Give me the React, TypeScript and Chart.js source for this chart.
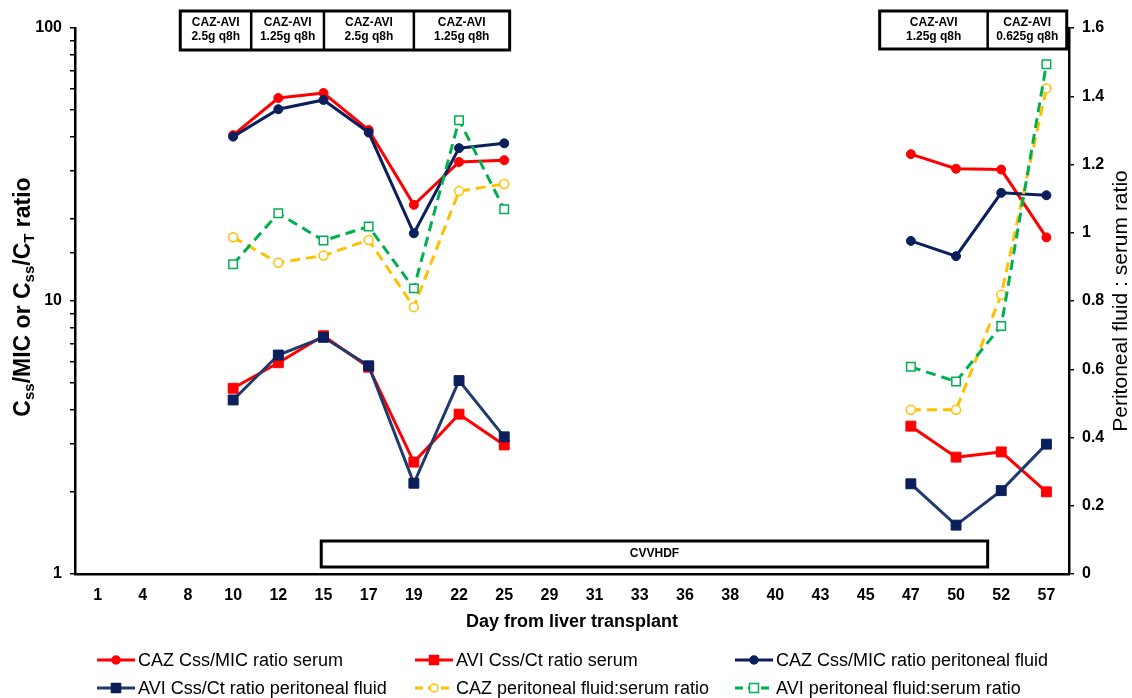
import React, { useEffect, useRef } from 'react';
import { Chart, registerables } from 'chart.js';

Chart.register(...registerables);

const FONT = '"Liberation Sans", Arial, Helvetica, sans-serif';

// Categories (day from liver transplant)
const days = ['1', '4', '8', '10', '12', '15', '17', '19', '22', '25', '29', '31', '33', '36', '38', '40', '43', '45', '47', '50', '52', '57'];

// Left axis (log) series
const cazSerum = [null, null, null, 40.5, 55.4, 57.8, 42.3, 22.5, 32.3, 32.8, null, null, null, null, null, null, null, null, 34.5, 30.5, 30.3, 17.1];
const aviSerum = [null, null, null, 4.79, 5.94, 7.46, 5.72, 2.57, 3.85, 2.97, null, null, null, null, null, null, null, null, 3.48, 2.68, 2.8, 2.0];
const cazPF = [null, null, null, 40.0, 50.4, 54.5, 41.4, 17.7, 36.3, 37.8, null, null, null, null, null, null, null, null, 16.6, 14.6, 24.9, 24.4];
const aviPF = [null, null, null, 4.34, 6.34, 7.36, 5.79, 2.15, 5.11, 3.18, null, null, null, null, null, null, null, null, 2.14, 1.51, 2.02, 2.99];

// Right axis (ratio) series
const cazRatio = [null, null, null, 0.987, 0.912, 0.933, 0.979, 0.782, 1.122, 1.143, null, null, null, null, null, null, null, null, 0.481, 0.481, 0.818, 1.423];
const aviRatio = [null, null, null, 0.908, 1.057, 0.977, 1.018, 0.837, 1.33, 1.069, null, null, null, null, null, null, null, null, 0.607, 0.564, 0.727, 1.494];

const seriesLabels = [
  'CAZ Css/MIC ratio serum',
  'AVI Css/Ct ratio serum',
  'CAZ Css/MIC ratio peritoneal fluid',
  'AVI Css/Ct ratio peritoneal fluid',
  'CAZ peritoneal fluid:serum ratio',
  'AVI peritoneal fluid:serum ratio',
];

// Dosing annotation boxes
const doseLeftText = ['2.5g q8h', '1.25g q8h', '2.5g q8h', '1.25g q8h'];
const doseRightText = ['1.25g q8h', '0.625g q8h'];
const doseDrug = 'CAZ-AVI';
const cvvhdfText = 'CVVHDF';

const overlayPlugin = {
  id: 'overlay',
  afterDraw(chart: any) {
    const ctx: CanvasRenderingContext2D = chart.ctx;
    const x = chart.scales.x;
    const a = x.getPixelForValue(0);
    const b = x.getPixelForValue(1);
    const px = (c: number) => a + (b - a) * c;

    const drawGroup = (edges: number[], top: number, bottom: number, texts: string[]) => {
      const xs = edges.map(px);
      ctx.save();
      ctx.fillStyle = '#fff';
      ctx.fillRect(xs[0], top, xs[xs.length - 1] - xs[0], bottom - top);
      ctx.strokeStyle = '#000';
      ctx.lineWidth = 2.5;
      for (let i = 1; i < xs.length - 1; i++) {
        ctx.beginPath();
        ctx.moveTo(xs[i], top);
        ctx.lineTo(xs[i], bottom);
        ctx.stroke();
      }
      ctx.lineWidth = 3;
      ctx.strokeRect(xs[0], top, xs[xs.length - 1] - xs[0], bottom - top);
      ctx.fillStyle = '#000';
      ctx.font = `bold 12px ${FONT}`;
      ctx.textAlign = 'center';
      ctx.textBaseline = 'middle';
      for (let i = 0; i < texts.length; i++) {
        const cx = (xs[i] + xs[i + 1]) / 2;
        ctx.fillText(doseDrug, cx, top + 12);
        ctx.fillText(texts[i], cx, top + 26);
      }
      ctx.restore();
    };
    drawGroup([1.83, 3.4, 5.01, 7.0, 9.12], 11, 50, doseLeftText);
    drawGroup([17.31, 19.7, 21.45], 11, 49, doseRightText);

    // CVVHDF box
    ctx.save();
    const cl = px(4.95);
    const cr = px(19.7);
    ctx.fillStyle = '#fff';
    ctx.fillRect(cl, 541, cr - cl, 26);
    ctx.strokeStyle = '#000';
    ctx.lineWidth = 3;
    ctx.strokeRect(cl, 541, cr - cl, 26);
    ctx.fillStyle = '#000';
    ctx.font = `bold 12px "Liberation Sans Narrow", ${FONT}`;
    ctx.textAlign = 'center';
    ctx.textBaseline = 'middle';
    ctx.fillText(cvvhdfText, (cl + cr) / 2, 554);
    ctx.restore();

    // Left axis title with subscripts
    const area = chart.chartArea;
    const cy = (area.top + area.bottom) / 2;
    ctx.save();
    ctx.translate(22, cy - 4);
    ctx.rotate(-Math.PI / 2);
    const parts: [string, boolean][] = [['C', false], ['ss', true], ['/MIC or C', false], ['ss', true], ['/C', false], ['T', true], [' ratio', false]];
    const mainF = `bold 23px ${FONT}`;
    const subF = `bold 15px ${FONT}`;
    let total = 0;
    const widths = parts.map(([t, s]) => {
      ctx.font = s ? subF : mainF;
      const w = ctx.measureText(t).width;
      total += w;
      return w;
    });
    let tx = -total / 2;
    ctx.fillStyle = '#000';
    ctx.textAlign = 'left';
    ctx.textBaseline = 'alphabetic';
    parts.forEach(([t, s], i) => {
      ctx.font = s ? subF : mainF;
      ctx.fillText(t, tx, s ? 12 : 8);
      tx += widths[i];
    });
    ctx.restore();

    // Right axis title
    ctx.save();
    ctx.translate(1121, cy);
    ctx.rotate(-Math.PI / 2);
    ctx.fillStyle = '#000';
    ctx.font = `21px ${FONT}`;
    ctx.textAlign = 'center';
    ctx.textBaseline = 'middle';
    ctx.fillText('Peritoneal fluid : serum ratio', 0, 0);
    ctx.restore();

    // Legend
    const colX = [97, 415, 735];
    const rowY = [660, 688];
    chart.data.datasets.forEach((ds: any, i: number) => {
      const lx = colX[i % 3];
      const ly = rowY[Math.floor(i / 3)];
      ctx.save();
      ctx.strokeStyle = ds.borderColor;
      ctx.lineWidth = 3;
      ctx.setLineDash(ds.borderDash && ds.borderDash.length ? [8, 5] : []);
      ctx.beginPath();
      ctx.moveTo(lx, ly);
      ctx.lineTo(lx + 38, ly);
      ctx.stroke();
      ctx.setLineDash([]);
      const mx = lx + 19;
      ctx.fillStyle = ds.pointBackgroundColor;
      ctx.strokeStyle = ds.pointBorderColor;
      ctx.lineWidth = 1.5;
      ctx.beginPath();
      if (ds.pointStyle === 'circle') {
        ctx.arc(mx, ly, 4, 0, Math.PI * 2);
      } else {
        ctx.rect(mx - 4.5, ly - 4.5, 9, 9);
      }
      ctx.fill();
      ctx.stroke();
      ctx.fillStyle = '#000';
      ctx.font = `18px ${FONT}`;
      ctx.textAlign = 'left';
      ctx.textBaseline = 'middle';
      ctx.fillText(ds.label, lx + 41, ly + 1);
      ctx.restore();
    });
  },
};

export default function App() {
  const ref = useRef<HTMLCanvasElement>(null);

  useEffect(() => {
    if (!ref.current) return;
    const RED = '#FF0000';
    const NAVY = '#0A1F5C';
    const NAVY2 = '#203A6C';
    const YEL = '#FFC000';
    const GRN = '#00B050';
    const chart = new Chart(ref.current, {
      type: 'line',
      data: {
        labels: days,
        datasets: [
          {
            label: seriesLabels[0], data: cazSerum, yAxisID: 'y', order: 4,
            borderColor: RED, borderWidth: 3, pointStyle: 'circle', pointRadius: 4.5,
            pointBackgroundColor: RED, pointBorderColor: RED, pointBorderWidth: 1, borderDash: [],
          },
          {
            label: seriesLabels[1], data: aviSerum, yAxisID: 'y', order: 5,
            borderColor: RED, borderWidth: 3, pointStyle: 'rect', pointRadius: 7,
            pointBackgroundColor: RED, pointBorderColor: RED, pointBorderWidth: 1, borderDash: [],
          },
          {
            label: seriesLabels[2], data: cazPF, yAxisID: 'y', order: 2,
            borderColor: NAVY, borderWidth: 3, pointStyle: 'circle', pointRadius: 4.5,
            pointBackgroundColor: NAVY, pointBorderColor: NAVY, pointBorderWidth: 1, borderDash: [],
          },
          {
            label: seriesLabels[3], data: aviPF, yAxisID: 'y', order: 3,
            borderColor: NAVY2, borderWidth: 3, pointStyle: 'rect', pointRadius: 7,
            pointBackgroundColor: NAVY, pointBorderColor: NAVY, pointBorderWidth: 1, borderDash: [],
          },
          {
            label: seriesLabels[4], data: cazRatio, yAxisID: 'y1', order: 1,
            borderColor: YEL, borderWidth: 3, borderDash: [10, 6], pointStyle: 'circle', pointRadius: 4.5,
            pointBackgroundColor: '#FFFFFF', pointBorderColor: YEL, pointBorderWidth: 1.5,
          },
          {
            label: seriesLabels[5], data: aviRatio, yAxisID: 'y1', order: 0,
            borderColor: GRN, borderWidth: 3, borderDash: [10, 6], pointStyle: 'rect', pointRadius: 6,
            pointBackgroundColor: '#FFFFFF', pointBorderColor: GRN, pointBorderWidth: 1.5,
          },
        ] as any,
      },
      options: {
        animation: false,
        responsive: true,
        maintainAspectRatio: false,
        events: [],
        spanGaps: false,
        layout: { padding: { top: 28, bottom: 60, left: 0, right: 0 } },
        plugins: {
          legend: { display: false },
          tooltip: { enabled: false },
          title: { display: false },
        },
        scales: {
          x: {
            type: 'category',
            offset: true,
            grid: { display: true, drawOnChartArea: false, drawTicks: false },
            border: { display: true, color: '#000', width: 2.5 },
            ticks: {
              color: '#000', autoSkip: false, maxRotation: 0, padding: 12,
              font: { family: FONT, size: 16, weight: 'bold' },
            },
            title: {
              display: true, text: 'Day from liver transplant', color: '#000',
              font: { family: FONT, size: 18, weight: 'bold' }, padding: { top: 0, bottom: 5 },
            },
            afterFit: (s: any) => { s.height = 64; },
          },
          y: {
            type: 'logarithmic',
            position: 'left',
            min: 1,
            max: 100,
            grid: { drawOnChartArea: false, drawTicks: true, tickLength: 5, color: '#000', lineWidth: 1.5 },
            border: { display: true, color: '#000', width: 2.5 },
            ticks: {
              autoSkip: false, padding: 8, color: '#000',
              font: { family: FONT, size: 16, weight: 'bold' },
              callback: (v: any) => {
                const l = Math.log10(Number(v));
                return Math.abs(l - Math.round(l)) < 1e-9 ? String(Number(v)) : '';
              },
            },
            afterFit: (s: any) => { s.width = 75; },
          },
          y1: {
            type: 'linear',
            position: 'right',
            min: 0,
            max: 1.6,
            grid: { drawOnChartArea: false, drawTicks: true, tickLength: 5, color: '#000', lineWidth: 1.5 },
            border: { display: true, color: '#000', width: 2.5 },
            ticks: {
              stepSize: 0.2, padding: 8, color: '#000',
              font: { family: FONT, size: 16, weight: 'bold' },
              callback: (v: any) => String(Math.round(Number(v) * 10) / 10),
            },
            afterFit: (s: any) => { s.width = 63; },
          },
        },
      } as any,
      plugins: [overlayPlugin],
    });
    return () => chart.destroy();
  }, []);

  return (
    <div style={{ position: 'fixed', left: 0, top: 0, width: 1132, height: 698, background: '#fff' }}>
      <canvas ref={ref} />
    </div>
  );
}
